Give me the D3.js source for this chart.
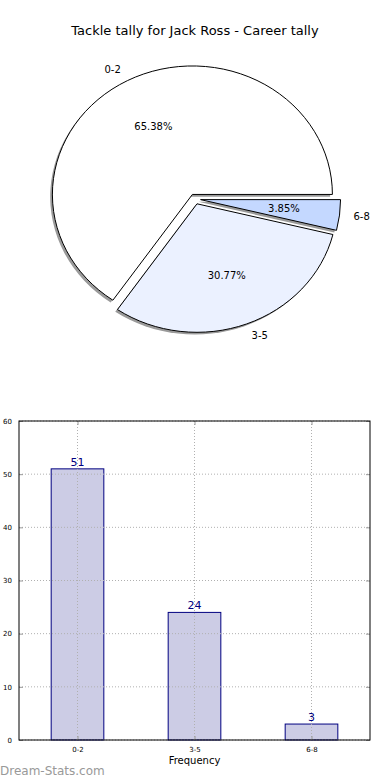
<!DOCTYPE html>
<html>
<head>
<meta charset="utf-8">
<script src="https://cdn.jsdelivr.net/npm/d3@7"></script>
<style>
  body { margin: 0; background: #fff; }
  svg { font-family: "DejaVu Sans", sans-serif; }
</style>
</head>
<body>
<div id="chart"></div>
<script>
// data
var categories = ["0-2", "3-5", "6-8"];
var counts = [51, 24, 3];
var pieColors = ["#ffffff", "#ebf1ff", "#c4d8ff"];
var yTicks = [0, 10, 20, 30, 40, 50, 60];

var width = 390, height = 780;

var svg = d3.select("#chart").append("svg")
    .attr("width", width)
    .attr("height", height);

// title
svg.append("text")
    .attr("x", 195).attr("y", 35)
    .attr("text-anchor", "middle")
    .style("font-size", "13px")
    .text("Tackle tally for Jack Ross - Career tally");

// ---- pie (matplotlib style: ccw from 3 o'clock, exploded, shadow) ----
var cx = 195, cy = 199, rx = 140, ry = 128.5, explode = 0.04;
var total = d3.sum(counts);

var pie = d3.pie().sort(null)
    .startAngle(Math.PI / 2)
    .endAngle(Math.PI / 2 - 2 * Math.PI);

var arc = d3.arc().innerRadius(0).outerRadius(1);

var slices = pie(counts);

slices.forEach(function(d) {
  var mid = (d.startAngle + d.endAngle) / 2;
  d.ux = Math.sin(mid);
  d.uy = -Math.cos(mid);
  d.ox = cx + explode * d.ux * rx;
  d.oy = cy + explode * d.uy * ry;
});

// shadows first
svg.append("g").selectAll("path.shadow")
    .data(slices)
    .enter().append("path")
    .attr("class", "shadow")
    .attr("transform", function(d) { return "translate(" + (d.ox - 2.2) + "," + (d.oy + 2.2) + ") scale(" + rx + "," + ry + ")"; })
    .attr("d", arc)
    .style("fill", "#9a9a9a");

svg.append("g").selectAll("path.wedge")
    .data(slices)
    .enter().append("path")
    .attr("class", "wedge")
    .attr("transform", function(d) { return "translate(" + d.ox + "," + d.oy + ") scale(" + rx + "," + ry + ")"; })
    .attr("d", arc)
    .attr("vector-effect", "non-scaling-stroke")
    .style("fill", function(d, i) { return pieColors[i]; })
    .style("stroke", "#000")
    .style("stroke-width", 1);

// labels
svg.append("g").selectAll("text.lab")
    .data(slices)
    .enter().append("text")
    .attr("x", function(d) { return d.ox + 1.1 * d.ux * rx; })
    .attr("y", function(d) { return d.oy + 1.1 * d.uy * ry; })
    .attr("dy", "0.35em")
    .attr("text-anchor", function(d) { return d.ux < 0 ? "end" : "start"; })
    .style("font-size", "10px")
    .text(function(d, i) { return categories[i]; });

svg.append("g").selectAll("text.pct")
    .data(slices)
    .enter().append("text")
    .attr("x", function(d) { return d.ox + 0.6 * d.ux * rx; })
    .attr("y", function(d) { return d.oy + 0.6 * d.uy * ry; })
    .attr("dy", "0.35em")
    .attr("text-anchor", "middle")
    .style("font-size", "10px")
    .text(function(d) { return (d.value / total * 100).toFixed(2) + "%"; });

// ---- bar chart ----
var plotLeft = 19, plotRight = 370, plotTop = 421, plotBottom = 740;
var x = d3.scaleLinear().domain([-0.5, 2.5]).range([plotLeft, plotRight]);
var y = d3.scaleLinear().domain([0, 60]).range([plotBottom, plotTop]);
var barW = x(0.45) - x(0);

svg.append("g").selectAll("rect")
    .data(counts)
    .enter().append("rect")
    .attr("x", function(d, i) { return x(i) - barW / 2; })
    .attr("y", function(d) { return y(d); })
    .attr("width", barW)
    .attr("height", function(d) { return plotBottom - y(d); })
    .style("fill", "#ccccE5")
    .style("stroke", "#000080")
    .style("stroke-width", 1);

// dotted grid over the bars
var grid = svg.append("g").style("stroke", "#b0b0b0").style("stroke-dasharray", "1,2");
grid.selectAll("line.gy").data(yTicks).enter().append("line")
    .attr("x1", plotLeft).attr("x2", plotRight)
    .attr("y1", function(d) { return y(d); }).attr("y2", function(d) { return y(d); });
grid.selectAll("line.gx").data(categories).enter().append("line")
    .attr("y1", plotTop).attr("y2", plotBottom)
    .attr("x1", function(d, i) { return x(i); }).attr("x2", function(d, i) { return x(i); });

svg.append("g").selectAll("text.val")
    .data(counts)
    .enter().append("text")
    .attr("x", function(d, i) { return x(i); })
    .attr("y", function(d) { return y(d) - 3; })
    .attr("text-anchor", "middle")
    .style("font-size", "11px")
    .style("fill", "#000080")
    .text(function(d) { return d; });

// axes (ticks inside, like matplotlib)
var yAxis = d3.axisLeft(y).tickValues(yTicks).tickSize(-4).tickPadding(7);
var gy = svg.append("g").attr("transform", "translate(" + plotLeft + ",0)").call(yAxis);
var gyr = svg.append("g").attr("transform", "translate(" + plotRight + ",0)")
    .call(d3.axisRight(y).tickValues(yTicks).tickSize(-4).tickFormat(""));
var xAxis = d3.axisBottom(x).tickValues([0, 1, 2])
    .tickFormat(function(d) { return categories[d]; }).tickSize(-4).tickPadding(7);
var gx = svg.append("g").attr("transform", "translate(0," + plotBottom + ")").call(xAxis);
var gxt = svg.append("g").attr("transform", "translate(0," + plotTop + ")")
    .call(d3.axisTop(x).tickValues([0, 1, 2]).tickSize(-4).tickFormat(""));

[gy, gyr, gx, gxt].forEach(function(g) {
  g.select(".domain").remove();
  g.selectAll(".tick line").style("stroke", "#999");
  g.selectAll("text").style("font-size", "7px").style("font-family", "DejaVu Sans").style("fill", "#000");
});

svg.append("rect")
    .attr("x", plotLeft).attr("y", plotTop)
    .attr("width", plotRight - plotLeft).attr("height", plotBottom - plotTop)
    .style("fill", "none").style("stroke", "#000").style("stroke-width", 1);

svg.append("text")
    .attr("x", (plotLeft + plotRight) / 2).attr("y", 764)
    .attr("text-anchor", "middle")
    .style("font-size", "10px")
    .text("Frequency");

svg.append("text")
    .attr("x", 0).attr("y", 775)
    .style("font-size", "12px")
    .style("fill", "#999")
    .text("Dream-Stats.com");
</script>
</body>
</html>
